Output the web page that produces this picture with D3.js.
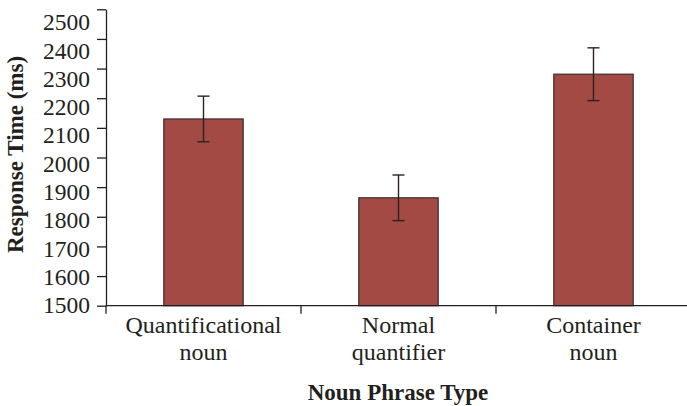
<!DOCTYPE html>
<html><head><meta charset="UTF-8">
<script src="https://d3js.org/d3.v7.min.js"></script>
<style>
body{margin:0;background:#fff}
svg{display:block}
text{font-family:"Liberation Serif","DejaVu Serif",serif;fill:#231f20}
</style></head><body><div id="chart"></div><script>
const categories = [['Quantificational', 'noun'], ['Normal', 'quantifier'], ['Container', 'noun']];
const means = [2130, 1864, 2281];
const errors = [77, 77, 89];
const yTicks = [1500, 1600, 1700, 1800, 1900, 2000, 2100, 2200, 2300, 2400, 2500];

const W = 687, H = 406;
const svg = d3.select('#chart').append('svg').attr('width', W).attr('height', H);

const x = d3.scaleBand().domain(d3.range(categories.length)).range([106, 691]);
const y = d3.scaleLinear().domain([1500, 2500]).range([305.7, 9.3]);
// tick labels in the original sit on a slightly tighter spacing than the ticks
const yLab = d3.scaleLinear().domain([1500, 2500]).range([304.3, 21.7]);
const barW = x.bandwidth() * 0.407;

// bars
svg.append('g').selectAll('rect').data(means).join('rect')
  .attr('x', (d, i) => x(i) + x.bandwidth() / 2 - barW / 2)
  .attr('y', d => y(d))
  .attr('width', barW)
  .attr('height', d => y(1500) - y(d))
  .attr('fill', '#a44a44')
  .attr('stroke', '#3b2b2b')
  .attr('stroke-width', 1.2);

// error bars
const eb = svg.append('g').attr('stroke', '#2a2222').attr('stroke-width', 1.4);
means.forEach((m, i) => {
  const cx = x(i) + x.bandwidth() / 2;
  eb.append('line').attr('x1', cx).attr('x2', cx).attr('y1', y(m + errors[i])).attr('y2', y(m - errors[i]));
  eb.append('line').attr('x1', cx - 6).attr('x2', cx + 6).attr('y1', y(m + errors[i])).attr('y2', y(m + errors[i]));
  eb.append('line').attr('x1', cx - 6).attr('x2', cx + 6).attr('y1', y(m - errors[i])).attr('y2', y(m - errors[i]));
});

// y axis
const ya = svg.append('g').attr('transform', 'translate(106,0)')
  .call(d3.axisLeft(y).tickValues(yTicks).tickSize(9).tickSizeOuter(0).tickFormat(d3.format('d')));
ya.select('.domain').attr('stroke', '#231f20').attr('stroke-width', 1.3);
ya.selectAll('.tick line').attr('stroke', '#231f20').attr('stroke-width', 1.3);
ya.selectAll('.tick text')
  .attr('x', -16)
  .attr('y', d => yLab(d) - y(d))
  .attr('dy', '0.35em')
  .style('font-size', '23.5px')
  .style('font-family', '"Liberation Serif",serif')
  .attr('fill', '#231f20');

// x axis
const xa = svg.append('g').attr('transform', 'translate(0,305.7)');
xa.append('line').attr('x1', 106).attr('x2', W).attr('stroke', '#231f20').attr('stroke-width', 1.3);
xa.selectAll('line.tk').data(d3.range(categories.length)).join('line').attr('class', 'tk')
  .attr('x1', d => x(d)).attr('x2', d => x(d)).attr('y1', 0).attr('y2', 8)
  .attr('stroke', '#231f20').attr('stroke-width', 1.3);
const lab = xa.selectAll('text.cat').data(categories).join('text').attr('class', 'cat')
  .attr('text-anchor', 'middle')
  .style('font-size', '24px');
lab.selectAll('tspan').data((d, i) => d.map(s => ({ s, i }))).join('tspan')
  .attr('x', d => x(d.i) + x.bandwidth() / 2)
  .attr('y', (d, j) => 27.5 + j * 27)
  .text(d => d.s);

// titles
svg.append('text').attr('x', 398).attr('y', 400).attr('text-anchor', 'middle')
  .style('font-size', '23px').style('font-weight', 'bold').text('Noun Phrase Type');
svg.append('text').attr('transform', 'translate(23,154.5) rotate(-90)').attr('text-anchor', 'middle')
  .style('font-size', '23px').style('font-weight', 'bold').text('Response Time (ms)');
</script></body></html>
